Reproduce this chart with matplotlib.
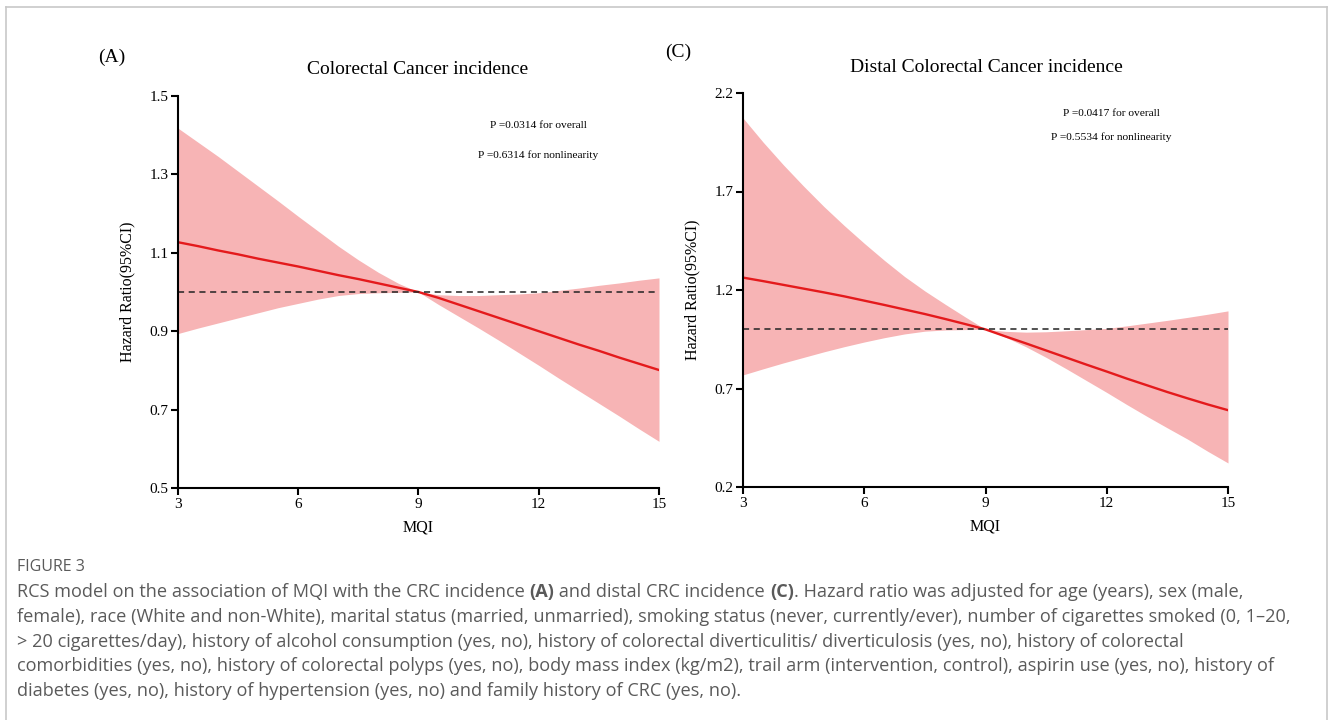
import matplotlib
matplotlib.use("Agg")
import matplotlib.pyplot as plt
from matplotlib.lines import Line2D

plt.rcParams['font.family'] = 'Liberation Serif'

# MQI grid (step 0.5)
mqi = [3, 3.5, 4, 4.5, 5, 5.5, 6, 6.5, 7, 7.5, 8, 8.5, 9,
       9.5, 10, 10.5, 11, 11.5, 12, 12.5, 13, 13.5, 14, 14.5, 15]

# (A) Colorectal cancer incidence
hr_a = [1.127, 1.117, 1.106, 1.096, 1.085, 1.075, 1.065, 1.054, 1.043, 1.033, 1.022, 1.011, 1.0,
        0.985, 0.968, 0.951, 0.934, 0.917, 0.900, 0.883, 0.866, 0.850, 0.833, 0.817, 0.801]
lo_a = [0.894, 0.908, 0.921, 0.934, 0.947, 0.960, 0.971, 0.982, 0.991, 0.996, 0.998, 0.999, 1.0,
        0.968, 0.938, 0.908, 0.877, 0.845, 0.813, 0.780, 0.748, 0.716, 0.684, 0.651, 0.619]
hi_a = [1.418, 1.382, 1.346, 1.308, 1.270, 1.232, 1.193, 1.155, 1.117, 1.082, 1.050, 1.022, 1.0,
        0.993, 0.991, 0.991, 0.993, 0.995, 0.998, 1.004, 1.010, 1.017, 1.023, 1.030, 1.036]

# (C) Distal colorectal cancer incidence
hr_c = [1.263, 1.245, 1.226, 1.207, 1.188, 1.168, 1.146, 1.124, 1.101, 1.078, 1.053, 1.027, 1.0,
        0.964, 0.929, 0.893, 0.857, 0.821, 0.786, 0.750, 0.716, 0.682, 0.650, 0.619, 0.590]
lo_c = [0.769, 0.800, 0.830, 0.858, 0.886, 0.912, 0.936, 0.958, 0.977, 0.991, 0.997, 0.999, 1.0,
        0.960, 0.912, 0.858, 0.800, 0.740, 0.680, 0.618, 0.558, 0.500, 0.443, 0.381, 0.322]
hi_c = [2.073, 1.950, 1.835, 1.727, 1.624, 1.528, 1.437, 1.350, 1.268, 1.195, 1.128, 1.063, 1.0,
        0.990, 0.986, 0.988, 0.993, 0.999, 1.005, 1.018, 1.032, 1.046, 1.061, 1.077, 1.094]

xticks = [3, 6, 9, 12, 15]
yticks_a = [0.5, 0.7, 0.9, 1.1, 1.3, 1.5]
yticks_c = [0.2, 0.7, 1.2, 1.7, 2.2]

caption_head = "FIGURE 3"
caption_lines = [
    [("RCS model on the association of MQI with the CRC incidence ", "normal"), ("(A)", "bold"),
     (" and distal CRC incidence ", "normal"), ("(C)", "bold"),
     (". Hazard ratio was adjusted for age (years), sex (male,", "normal")],
    [("female), race (White and non-White), marital status (married, unmarried), smoking status (never, "
      "currently/ever), number of cigarettes smoked (0, 1\u201320,", "normal")],
    [("> 20 cigarettes/day), history of alcohol consumption (yes, no), history of colorectal diverticulitis/ "
      "diverticulosis (yes, no), history of colorectal", "normal")],
    [("comorbidities (yes, no), history of colorectal polyps (yes, no), body mass index (kg/m2), trail arm "
      "(intervention, control), aspirin use (yes, no), history of", "normal")],
    [("diabetes (yes, no), history of hypertension (yes, no) and family history of CRC (yes, no).", "normal")],
]

W, H = 1330, 720
fig = plt.figure(figsize=(13.3, 7.2), dpi=100)

band_col = '#f7b4b5'
line_col = '#e41a1c'


def panel(ax, hr, lo, hi, yticks):
    ax.fill_between(mqi, lo, hi, color=band_col, lw=0)
    ax.plot(mqi, hr, color=line_col, lw=1.7)
    ax.axhline(1.0, color='#222222', lw=1.1, ls=(0, (4, 3)))
    ax.set_xlim(3, 15)
    ax.set_ylim(yticks[0], yticks[-1])
    ax.set_xticks(xticks)
    ax.set_yticks(yticks)
    ax.set_yticklabels([f"{t:.1f}" for t in yticks])
    for s in ['top', 'right']:
        ax.spines[s].set_visible(False)
    for s in ['left', 'bottom']:
        ax.spines[s].set_linewidth(1.5)
    ax.tick_params(direction='out', length=5, width=1.5, labelsize=11, pad=2)
    ax.set_xlabel("MQI", fontsize=11.5, labelpad=6)
    ax.set_ylabel("Hazard Ratio(95%CI)", fontsize=11.5, labelpad=10)


ax_a = fig.add_axes([178 / W, 1 - 488 / H, 481 / W, 392 / H])
panel(ax_a, hr_a, lo_a, hi_a, yticks_a)
ax_c = fig.add_axes([743 / W, 1 - 487 / H, 485 / W, 394 / H])
panel(ax_c, hr_c, lo_c, hi_c, yticks_c)

fig.text(112 / W, 1 - 57 / H, "(A)", fontsize=14, ha='center', va='center')
fig.text(678 / W, 1 - 52 / H, "(C)", fontsize=14, ha='center', va='center')
fig.text(418 / W, 1 - 70 / H, "Colorectal Cancer incidence", fontsize=14, ha='center', va='center')
fig.text(986 / W, 1 - 67 / H, "Distal Colorectal Cancer incidence", fontsize=14, ha='center', va='center')

fig.text(538 / W, 1 - 126 / H, "P =0.0314 for overall", fontsize=8.2, ha='center', va='center')
fig.text(538 / W, 1 - 155 / H, "P =0.6314 for nonlinearity", fontsize=8.2, ha='center', va='center')
fig.text(1111 / W, 1 - 114 / H, "P =0.0417 for overall", fontsize=8.2, ha='center', va='center')
fig.text(1111 / W, 1 - 137 / H, "P =0.5534 for nonlinearity", fontsize=8.2, ha='center', va='center')

# frame around figure area (open at bottom)
gray = '#c8c8c8'
fig.add_artist(Line2D([6 / W, 6 / W], [0, 1 - 7 / H], color=gray, lw=1.2))
fig.add_artist(Line2D([6 / W, 1327 / W], [1 - 7 / H, 1 - 7 / H], color=gray, lw=1.2))
fig.add_artist(Line2D([1327 / W, 1327 / W], [0, 1 - 7 / H], color=gray, lw=1.2))

# caption
cap_col = '#5a5a5a'
cap_font = 'Open Sans'
fig.text(17 / W, 1 - 567 / H, caption_head, fontsize=11.5, color=cap_col, family=cap_font, va='center')
renderer = fig.canvas.get_renderer()
line_y = [592, 617, 642, 666, 691]
for pieces, y in zip(caption_lines, line_y):
    x = 17
    for txt, wt in pieces:
        t = fig.text(x / W, 1 - y / H, txt, fontsize=13.1, color=cap_col, family=cap_font,
                     weight=wt, va='center')
        x += t.get_window_extent(renderer).width

fig.savefig("out.png", dpi=100)
